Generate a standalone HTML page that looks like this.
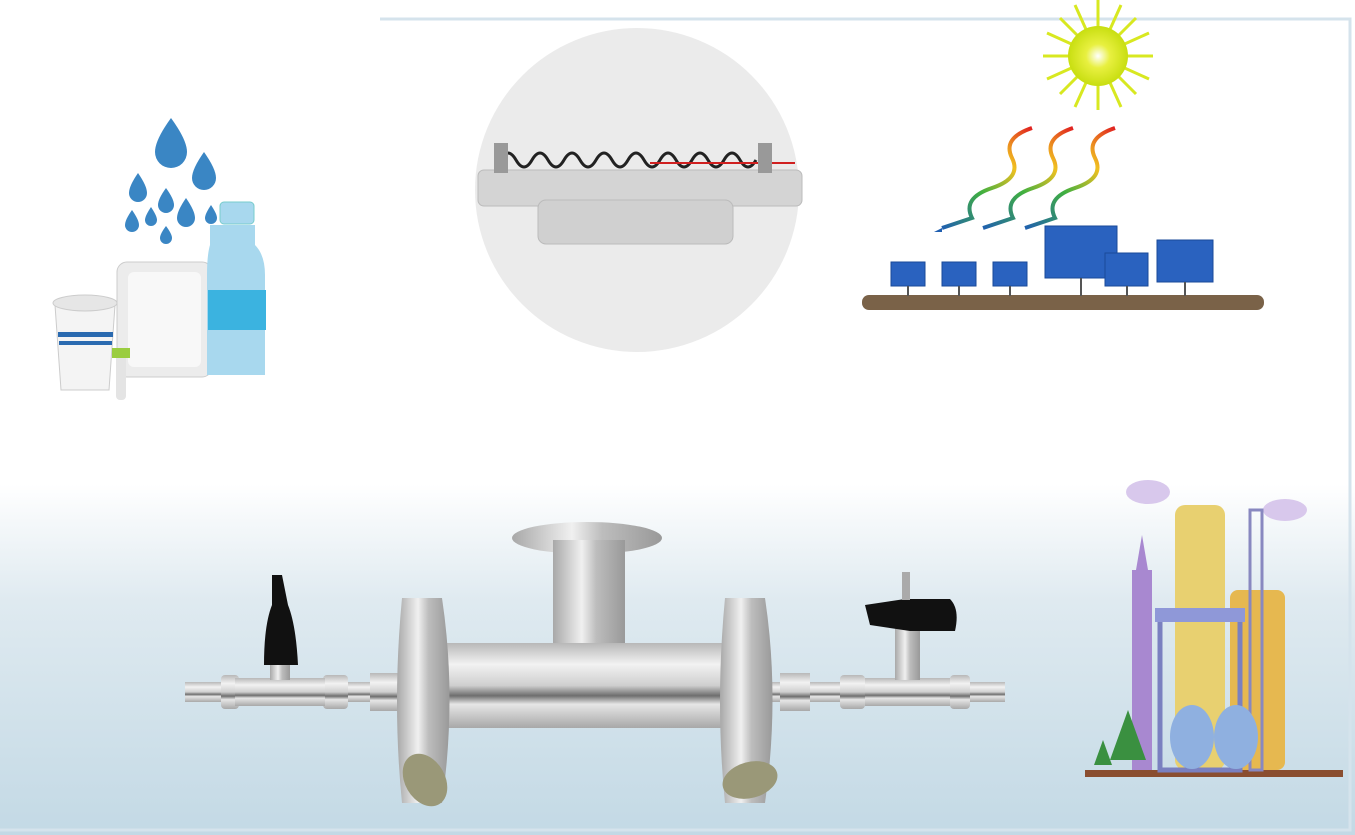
<!DOCTYPE html>
<html><head><style>
html,body{margin:0;padding:0;background:#fff;}
svg{display:block}
</style></head><body>
<svg width="1355" height="835" viewBox="0 0 1355 835" xmlns="http://www.w3.org/2000/svg">
<defs>
<linearGradient id="bg" x1="0" y1="0" x2="0" y2="1">
<stop offset="0" stop-color="#fff"/>
<stop offset="0.58" stop-color="#fff"/>
<stop offset="0.72" stop-color="#dfeaf0"/>
<stop offset="1" stop-color="#c3d9e5"/>
</linearGradient>
<linearGradient id="metal" x1="0" y1="0" x2="0" y2="1">
<stop offset="0" stop-color="#b8b8b8"/>
<stop offset="0.25" stop-color="#f2f2f2"/>
<stop offset="0.5" stop-color="#cfcfcf"/>
<stop offset="0.62" stop-color="#6e6e6e"/>
<stop offset="0.72" stop-color="#e6e6e6"/>
<stop offset="1" stop-color="#a8a8a8"/>
</linearGradient>
<linearGradient id="metalv" x1="0" y1="0" x2="1" y2="0">
<stop offset="0" stop-color="#a8a8a8"/>
<stop offset="0.4" stop-color="#f0f0f0"/>
<stop offset="0.6" stop-color="#bdbdbd"/>
<stop offset="1" stop-color="#999"/>
</linearGradient>
<radialGradient id="sun"><stop offset="0" stop-color="#fff"/><stop offset="0.4" stop-color="#e8f040"/><stop offset="1" stop-color="#c8de10"/></radialGradient>
<linearGradient id="wave" x1="1" y1="0" x2="0" y2="1"><stop offset="0" stop-color="#e02020"/><stop offset="0.3" stop-color="#f0c020"/><stop offset="0.6" stop-color="#40b040"/><stop offset="1" stop-color="#2060b0"/></linearGradient>
</defs>
<rect width="1355" height="835" fill="url(#bg)"/>
<polyline points="380,19 1350,19 1350,830 0,830" fill="none" stroke="#d5e3ec" stroke-width="3"/>

<!-- circle with heater -->
<circle cx="637" cy="190" r="162" fill="#ebebeb"/>
<rect x="478" y="170" width="324" height="36" rx="6" fill="#d4d4d4" stroke="#bbb"/>
<rect x="538" y="200" width="195" height="44" rx="8" fill="#d0d0d0" stroke="#bbb"/>
<path d="M500,160 q8,-14 16,0 t16,0 t16,0 t16,0 t16,0 t16,0 t16,0 t16,0 t16,0 t16,0 t16,0 t16,0 t16,0 t16,0 t16,0 t16,0" fill="none" stroke="#222" stroke-width="3"/>
<line x1="650" y1="163" x2="795" y2="163" stroke="#d02020" stroke-width="2"/>
<rect x="494" y="143" width="14" height="30" fill="#999"/>
<rect x="758" y="143" width="14" height="30" fill="#999"/>

<!-- water drops & packaging -->
<g fill="#3a86c4">
<path d="M171,118 q-16,22 -16,34 a16,16 0 0 0 32,0 q0,-12 -16,-34z"/>
<path d="M204,152 q-12,17 -12,26 a12,12 0 0 0 24,0 q0,-9 -12,-26z"/>
<path d="M138,173 q-9,13 -9,20 a9,9 0 0 0 18,0 q0,-7 -9,-20z"/>
<path d="M166,188 q-8,11 -8,17 a8,8 0 0 0 16,0 q0,-6 -8,-17z"/>
<path d="M186,198 q-9,13 -9,20 a9,9 0 0 0 18,0 q0,-7 -9,-20z"/>
<path d="M132,210 q-7,10 -7,15 a7,7 0 0 0 14,0 q0,-5 -7,-15z"/>
<path d="M151,207 q-6,9 -6,13 a6,6 0 0 0 12,0 q0,-4 -6,-13z"/>
<path d="M166,226 q-6,8 -6,12 a6,6 0 0 0 12,0 q0,-4 -6,-12z"/>
<path d="M211,205 q-6,9 -6,13 a6,6 0 0 0 12,0 q0,-4 -6,-13z"/>
</g>
<path d="M55,305 h60 l-6,85 h-48z" fill="#f4f4f4" stroke="#ccc"/>
<ellipse cx="85" cy="303" rx="32" ry="8" fill="#e6e6e6" stroke="#ccc"/>
<rect x="58" y="332" width="55" height="5" fill="#2a6ab0"/><rect x="59" y="341" width="53" height="4" fill="#2a6ab0"/>
<rect x="117" y="262" width="95" height="115" rx="10" fill="#ececec" stroke="#ccc"/>
<rect x="128" y="272" width="73" height="95" rx="6" fill="#f8f8f8"/>
<path d="M210,225 h45 v20 q10,10 10,30 v100 h-58 v-100 q0,-20 3,-30z" fill="#a8d8ee"/>
<rect x="208" y="290" width="58" height="40" fill="#3bb3e0"/>
<rect x="220" y="202" width="34" height="22" rx="4" fill="#a8d8ee" stroke="#7cc"/>
<rect x="116" y="348" width="10" height="52" rx="4" fill="#e4e4e4"/><rect x="112" y="348" width="18" height="10" fill="#9acd40"/>

<!-- solar -->
<g stroke="#d8e820" stroke-width="3">
<line x1="1098" y1="0" x2="1098" y2="110"/><line x1="1043" y1="56" x2="1153" y2="56"/>
<line x1="1060" y1="18" x2="1136" y2="94"/><line x1="1136" y1="18" x2="1060" y2="94"/>
<line x1="1075" y1="5" x2="1121" y2="107"/><line x1="1121" y1="5" x2="1075" y2="107"/>
<line x1="1047" y1="33" x2="1149" y2="79"/><line x1="1149" y1="33" x2="1047" y2="79"/>
</g>
<circle cx="1098" cy="56" r="30" fill="url(#sun)"/>
<g fill="none" stroke="url(#wave)" stroke-width="4">
<path d="M1032,128 q-30,10 -20,30 q10,20 -20,30 q-30,10 -20,30 l-30,10"/>
<path d="M1073,128 q-30,10 -20,30 q10,20 -20,30 q-30,10 -20,30 l-30,10"/>
<path d="M1115,128 q-30,10 -20,30 q10,20 -20,30 q-30,10 -20,30 l-30,10"/>
</g>
<g fill="#1f5fb0"><path d="M942,228 l-8,4 8,0z"/></g>
<rect x="862" y="295" width="402" height="15" rx="7" fill="#7a6248"/>
<g fill="#2a62bf" stroke="#1a4a9a">
<rect x="891" y="262" width="34" height="24"/><rect x="942" y="262" width="34" height="24"/><rect x="993" y="262" width="34" height="24"/>
<rect x="1045" y="226" width="72" height="52"/><rect x="1105" y="253" width="43" height="33"/><rect x="1157" y="240" width="56" height="42"/>
</g>
<g stroke="#555" stroke-width="2"><line x1="908" y1="286" x2="908" y2="296"/><line x1="959" y1="286" x2="959" y2="296"/><line x1="1010" y1="286" x2="1010" y2="296"/><line x1="1081" y1="278" x2="1081" y2="296"/><line x1="1127" y1="286" x2="1127" y2="296"/><line x1="1185" y1="282" x2="1185" y2="296"/></g>

<!-- factory -->
<ellipse cx="1148" cy="492" rx="22" ry="12" fill="#d8c8ec"/>
<ellipse cx="1285" cy="510" rx="22" ry="11" fill="#d8c8ec"/>
<rect x="1085" y="770" width="258" height="7" fill="#8a4e30"/>
<rect x="1175" y="505" width="50" height="265" rx="10" fill="#e8d070"/>
<rect x="1230" y="590" width="55" height="180" rx="8" fill="#e6b850"/>
<rect x="1132" y="570" width="20" height="200" fill="#a888d0"/>
<polygon points="1142,535 1136,570 1148,570" fill="#a888d0"/>
<rect x="1160" y="615" width="80" height="155" fill="none" stroke="#7a80c0" stroke-width="5"/>
<rect x="1155" y="608" width="90" height="14" fill="#8f98d8"/>
<rect x="1250" y="510" width="12" height="260" fill="none" stroke="#8888c0" stroke-width="3"/>
<ellipse cx="1192" cy="737" rx="22" ry="32" fill="#8fb0e0"/>
<ellipse cx="1236" cy="737" rx="22" ry="32" fill="#8fb0e0"/>
<polygon points="1128,710 1110,760 1146,760" fill="#3a9040"/>
<polygon points="1103,740 1094,765 1112,765" fill="#3a9040"/>

<!-- pipes -->
<rect x="185" y="682" width="225" height="20" fill="url(#metal)"/>
<rect x="770" y="682" width="235" height="20" fill="url(#metal)"/>
<g fill="url(#metal)">
<rect x="221" y="675" width="18" height="34" rx="4"/><rect x="323" y="675" width="25" height="34" rx="4"/><rect x="370" y="673" width="30" height="38"/>
<rect x="780" y="673" width="30" height="38"/><rect x="840" y="675" width="25" height="34" rx="4"/><rect x="950" y="675" width="20" height="34" rx="4"/>
<rect x="235" y="678" width="90" height="28"/><rect x="865" y="678" width="85" height="28"/>
</g>
<rect x="895" y="625" width="25" height="55" fill="url(#metalv)"/>
<rect x="270" y="665" width="20" height="15" fill="url(#metalv)"/>
<path d="M272,575 h10 l6,30 q8,20 10,60 h-34 q0,-40 8,-60z" fill="#111"/>
<path d="M865,605 l40,-6 h45 q10,10 5,32 h-45 l-40,-6z" fill="#111"/>
<rect x="902" y="572" width="8" height="28" fill="#aaa"/>

<!-- main body -->
<ellipse cx="587" cy="538" rx="75" ry="16" fill="url(#metalv)"/>
<rect x="553" y="540" width="72" height="105" fill="url(#metalv)"/>
<rect x="440" y="643" width="300" height="85" fill="url(#metal)"/>
<path d="M402,598 h40 q15,100 0,205 h-40 q-10,-100 0,-205z" fill="url(#metalv)"/>
<path d="M725,598 h40 q15,100 0,205 h-40 q-10,-100 0,-205z" fill="url(#metalv)"/>
<ellipse cx="425" cy="780" rx="20" ry="28" transform="rotate(-30 425 780)" fill="#9a9878"/>
<ellipse cx="750" cy="780" rx="28" ry="18" transform="rotate(-15 750 780)" fill="#9a9878"/>
</svg>
</body></html>
